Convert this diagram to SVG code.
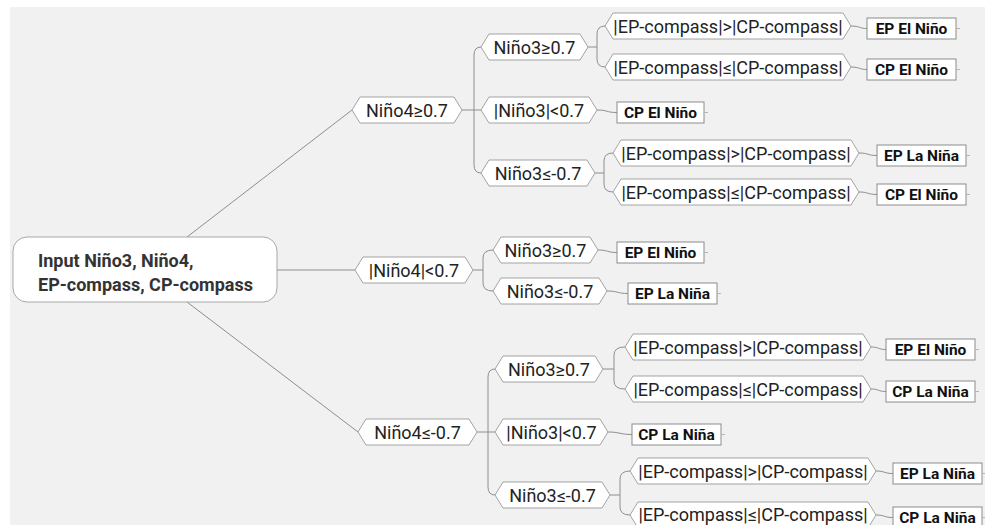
<svg xmlns="http://www.w3.org/2000/svg" width="985" height="525" viewBox="0 0 985 525">
<style>
.hex{fill:#fff;stroke:#a3a3a3;stroke-width:1}
.ht{font-family:Roboto,"Open Sans",sans-serif;font-size:18px;fill:#222;text-anchor:middle}
.leaf{fill:#fff;stroke:#8c8c8c;stroke-width:1}
.lt{font-family:Roboto,"Open Sans",sans-serif;font-size:15.5px;font-weight:bold;fill:#111;text-anchor:middle}
.tick{stroke:#b5b5b5;stroke-width:1}
.rt{font-family:Roboto,"Open Sans",sans-serif;font-size:18px;font-weight:bold;fill:#333}
#connectors path{fill:none;stroke:#8e8e8e;stroke-width:1}
</style>
<rect x="0" y="0" width="985" height="525" fill="#fff"/>
<rect x="10" y="7" width="975" height="518" fill="#f1f1f1"/>
<g id="connectors">
<path d="M187,237 L352,110"/>
<path d="M277,270 L355,270"/>
<path d="M187,302 L358,432"/>
<path d="M462,110 H474 M474,110 V55 Q474,47 481,47 M474,110 H481 M474,110 V165 Q474,173 481,173"/>
<path d="M473,270 H483 M483,270 V258 Q483,250 493,250 M483,270 V283 Q483,291 493,291"/>
<path d="M477,432 H488 M488,432 V377 Q488,369 495,369 M488,432 H495 M488,432 V487 Q488,495 495,495"/>
<path d="M588,47 H597 M597,47 V34 Q597,26 605,26 M597,47 V59 Q597,67 605,67"/>
<path d="M595,173 H604 M604,173 V161 Q604,153 613,153 M604,173 V184 Q604,192 613,192"/>
<path d="M603,369 H614 M614,369 V355 Q614,347 625,347 M614,369 V381 Q614,389 625,389"/>
<path d="M610,495 H620 M620,495 V479 Q620,471 630,471 M620,495 V507 Q620,515 630,515"/>
<path d="M851,26 C860,26 859,28.5 867,28.5"/>
<path d="M851,67 C860,67 859,69.5 867,69.5"/>
<path d="M597,110 C608,110 606,112.5 617,112.5"/>
<path d="M859,153 C869,153 867,155.5 877,155.5"/>
<path d="M859,192 C869,192 867,194.5 877,194.5"/>
<path d="M598,250 C608,250 607,252.5 617,252.5"/>
<path d="M607,291 C618,291 617,293.5 628,293.5"/>
<path d="M608,432 C620,432 620,434.5 632,434.5"/>
<path d="M871,347 C879,347 878,349.5 886,349.5"/>
<path d="M871,389 C879,389 878,391.5 886,391.5"/>
<path d="M876,471 C885,471 884,473.5 893,473.5"/>
<path d="M876,515 C885,515 884,517.5 893,517.5"/>
</g>
<g id="root">
<rect x="13" y="237" width="264" height="65" rx="14" fill="#fff" stroke="#a8a8a8"/>
<text class="rt" x="38" y="267">Input Niño3, Niño4,</text>
<text class="rt" x="38" y="291">EP-compass, CP-compass</text>
</g>
<g id="n4ge">
<polygon class="hex" points="352,110 360,97 454,97 462,110 454,123 360,123"/>
<text class="ht" x="407" y="116.5">Niño4≥0.7</text>
</g>
<g id="n4mid">
<polygon class="hex" points="355,270 363,257 465,257 473,270 465,283 363,283"/>
<text class="ht" x="414" y="276.5">|Niño4|&lt;0.7</text>
</g>
<g id="n4le">
<polygon class="hex" points="358,432 366,419 469,419 477,432 469,445 366,445"/>
<text class="ht" x="417.5" y="438.5">Niño4≤-0.7</text>
</g>
<g id="b1">
<polygon class="hex" points="481,47 489,34 580,34 588,47 580,60 489,60"/>
<text class="ht" x="534.5" y="53.5">Niño3≥0.7</text>
</g>
<g id="b2">
<polygon class="hex" points="481,110 489,97 589,97 597,110 589,123 489,123"/>
<text class="ht" x="539" y="116.5">|Niño3|&lt;0.7</text>
</g>
<g id="b3">
<polygon class="hex" points="481,173 489,160 587,160 595,173 587,186 489,186"/>
<text class="ht" x="538" y="179.5">Niño3≤-0.7</text>
</g>
<g id="b4">
<polygon class="hex" points="493,250 501,237 590,237 598,250 590,263 501,263"/>
<text class="ht" x="545.5" y="256.5">Niño3≥0.7</text>
</g>
<g id="b5">
<polygon class="hex" points="493,291 501,278 599,278 607,291 599,304 501,304"/>
<text class="ht" x="550" y="297.5">Niño3≤-0.7</text>
</g>
<g id="b6">
<polygon class="hex" points="495,369 503,356 595,356 603,369 595,382 503,382"/>
<text class="ht" x="549" y="375.5">Niño3≥0.7</text>
</g>
<g id="b7">
<polygon class="hex" points="495,432 503,419 600,419 608,432 600,445 503,445"/>
<text class="ht" x="551.5" y="438.5">|Niño3|&lt;0.7</text>
</g>
<g id="b8">
<polygon class="hex" points="495,495 503,482 602,482 610,495 602,508 503,508"/>
<text class="ht" x="552.5" y="501.5">Niño3≤-0.7</text>
</g>
<g id="c1">
<polygon class="hex" points="605,26 613,13 843,13 851,26 843,39 613,39"/>
<text class="ht" x="728" y="32.5">|EP-compass|&gt;|CP-compass|</text>
</g>
<g id="c2">
<polygon class="hex" points="605,67 613,54 843,54 851,67 843,80 613,80"/>
<text class="ht" x="728" y="73.5">|EP-compass|≤|CP-compass|</text>
</g>
<g id="c3">
<polygon class="hex" points="613,153 621,140 851,140 859,153 851,166 621,166"/>
<text class="ht" x="736" y="159.5">|EP-compass|&gt;|CP-compass|</text>
</g>
<g id="c4">
<polygon class="hex" points="613,192 621,179 851,179 859,192 851,205 621,205"/>
<text class="ht" x="736" y="198.5">|EP-compass|≤|CP-compass|</text>
</g>
<g id="c5">
<polygon class="hex" points="625,347 633,334 863,334 871,347 863,360 633,360"/>
<text class="ht" x="748" y="353.5">|EP-compass|&gt;|CP-compass|</text>
</g>
<g id="c6">
<polygon class="hex" points="625,389 633,376 863,376 871,389 863,402 633,402"/>
<text class="ht" x="748" y="395.5">|EP-compass|≤|CP-compass|</text>
</g>
<g id="c7">
<polygon class="hex" points="630,471 638,458 868,458 876,471 868,484 638,484"/>
<text class="ht" x="753" y="477.5">|EP-compass|&gt;|CP-compass|</text>
</g>
<g id="c8">
<polygon class="hex" points="630,515 638,502 868,502 876,515 868,528 638,528"/>
<text class="ht" x="753" y="521">|EP-compass|≤|CP-compass|</text>
</g>
<g id="l1"><rect class="leaf" x="867" y="18" width="89" height="21"/><line class="tick" x1="956" y1="28.5" x2="960" y2="28.5"/><text class="lt" x="911.5" y="34">EP El Niño</text></g>
<g id="l2"><rect class="leaf" x="867" y="59" width="89" height="21"/><line class="tick" x1="956" y1="69.5" x2="960" y2="69.5"/><text class="lt" x="911.5" y="75">CP El Niño</text></g>
<g id="l3"><rect class="leaf" x="617" y="102" width="87" height="21"/><line class="tick" x1="704" y1="112.5" x2="708" y2="112.5"/><text class="lt" x="660.5" y="118">CP El Niño</text></g>
<g id="l4"><rect class="leaf" x="877" y="145" width="89" height="21"/><line class="tick" x1="966" y1="155.5" x2="970" y2="155.5"/><text class="lt" x="921.5" y="161">EP La Niña</text></g>
<g id="l5"><rect class="leaf" x="877" y="184" width="89" height="21"/><line class="tick" x1="966" y1="194.5" x2="970" y2="194.5"/><text class="lt" x="921.5" y="200">CP El Niño</text></g>
<g id="l6"><rect class="leaf" x="617" y="242" width="87" height="21"/><line class="tick" x1="704" y1="252.5" x2="708" y2="252.5"/><text class="lt" x="660.5" y="258">EP El Niño</text></g>
<g id="l7"><rect class="leaf" x="628" y="283" width="89" height="21"/><line class="tick" x1="717" y1="293.5" x2="721" y2="293.5"/><text class="lt" x="672.5" y="299">EP La Niña</text></g>
<g id="l8"><rect class="leaf" x="632" y="424" width="89" height="21"/><line class="tick" x1="721" y1="434.5" x2="725" y2="434.5"/><text class="lt" x="676.5" y="440">CP La Niña</text></g>
<g id="l9"><rect class="leaf" x="886" y="339" width="89" height="21"/><line class="tick" x1="975" y1="349.5" x2="979" y2="349.5"/><text class="lt" x="930.5" y="355">EP El Niño</text></g>
<g id="l10"><rect class="leaf" x="886" y="381" width="89" height="21"/><line class="tick" x1="975" y1="391.5" x2="979" y2="391.5"/><text class="lt" x="930.5" y="397">CP La Niña</text></g>
<g id="l11"><rect class="leaf" x="893" y="463" width="89" height="21"/><line class="tick" x1="982" y1="473.5" x2="985" y2="473.5"/><text class="lt" x="937.5" y="479">EP La Niña</text></g>
<g id="l12"><rect class="leaf" x="893" y="507" width="89" height="21"/><line class="tick" x1="982" y1="517.5" x2="985" y2="517.5"/><text class="lt" x="937.5" y="522.5">CP La Niña</text></g>
</svg>
